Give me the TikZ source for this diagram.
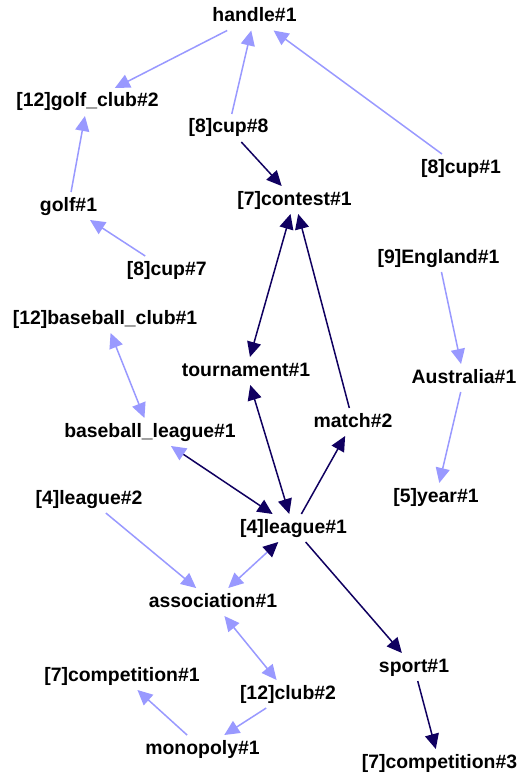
\documentclass[tikz,border=0pt]{standalone}
\usepackage{fontspec}
\setmainfont{Liberation Sans}
\usetikzlibrary{arrows.meta}
\definecolor{lite}{HTML}{9999FF}
\definecolor{dark}{HTML}{100060}
\begin{document}
\begin{tikzpicture}[x=1pt,y=-1pt,
  lbl/.style={anchor=base,font=\fontsize{19.4}{22}\selectfont\bfseries,text height=14pt,text depth=4pt,inner sep=5pt,outer sep=0pt},
  tipl/.style={Triangle[length=15pt,width=14pt,color=lite]},
  le/.style={draw=lite,line width=1.5pt,-{Triangle[length=15pt,width=14pt,color=lite]}},
  de/.style={draw=dark,line width=1.5pt,-{Triangle[length=15pt,width=14pt,color=dark]}},
  ldd/.style={draw=lite,line width=1.5pt,{Triangle[length=15pt,width=14pt,color=lite]}-{Triangle[length=15pt,width=14pt,color=lite]}},
  ddd/.style={draw=dark,line width=1.5pt,{Triangle[length=15pt,width=14pt,color=dark]}-{Triangle[length=15pt,width=14pt,color=dark]}},
  mixl/.style={draw=lite,line width=1.5pt,{Triangle[length=15pt,width=14pt,color=lite]}-{Triangle[length=15pt,width=14pt,color=dark]}},
  mixd/.style={draw=dark,line width=1.5pt,{Triangle[length=15pt,width=14pt,color=lite]}-{Triangle[length=15pt,width=14pt,color=dark]}}]
\useasboundingbox[fill=white] (0,0) rectangle (524,778);
\node[lbl] (handle) at (254.5,21.5) {handle\#1};
\node[lbl] (golfclub) at (87.5,107) {[12]golf\_club\#2};
\node[lbl] (cupeight) at (228.5,133) {[8]cup\#8};
\node[lbl] (cupone) at (461,173) {[8]cup\#1};
\node[lbl] (contest) at (294.5,205) {[7]contest\#1};
\node[lbl] (golf) at (68.5,211) {golf\#1};
\node[lbl] (cupseven) at (166.7,275) {[8]cup\#7};
\node[lbl] (england) at (438.5,263) {[9]England\#1};
\node[lbl] (bclub) at (105,324) {[12]baseball\_club\#1};
\node[lbl] (tourn) at (246,376) {tournament\#1};
\node[lbl] (austr) at (464,383) {Australia\#1};
\node[lbl] (match) at (353,427) {match\#2};
\node[lbl] (bleague) at (150,437) {baseball\_league\#1};
\node[lbl] (leaguetwo) at (89,504) {[4]league\#2};
\node[lbl] (year) at (436,502) {[5]year\#1};
\node[lbl] (leagueone) at (293.5,533) {[4]league\#1};
\node[lbl] (assoc) at (213,607) {association\#1};
\node[lbl] (sport) at (414,672) {sport\#1};
\node[lbl] (compone) at (122,681) {[7]competition\#1};
\node[lbl] (club) at (288,699) {[12]club\#2};
\node[lbl] (monop) at (202.5,754) {monopoly\#1};
\node[lbl] (compthree) at (439.5,768) {[7]competition\#3};
% light edges
\draw[le] (handle) -- (golfclub);
\draw[le] (cupeight) -- (handle);
\draw[le] (cupone) -- (handle);
\draw[le] (golf) -- (golfclub);
\draw[le] (cupseven) -- (golf);
\draw[le] (england) -- (austr);
\draw[le] (austr) -- (year);
\draw[ldd] (bclub) -- (bleague);
\draw[le] (leaguetwo) -- (assoc);
\draw[mixl] (assoc) -- (leagueone);
\draw[ldd] (assoc) -- (club);
\draw[le] (club) -- (monop);
\draw[le] (monop) -- (compone);
% dark edges
\draw[de] (cupeight) -- (contest);
\draw[ddd] (contest) -- (tourn);
\draw[de] (match) -- (contest);
\draw[ddd] (tourn) -- (leagueone);
\draw[mixd] (bleague) -- (leagueone);
\draw[de] (leagueone) -- (match);
\draw[de] (leagueone) -- (sport);
\draw[de] (sport) -- (compthree);
\end{tikzpicture}
\end{document}
